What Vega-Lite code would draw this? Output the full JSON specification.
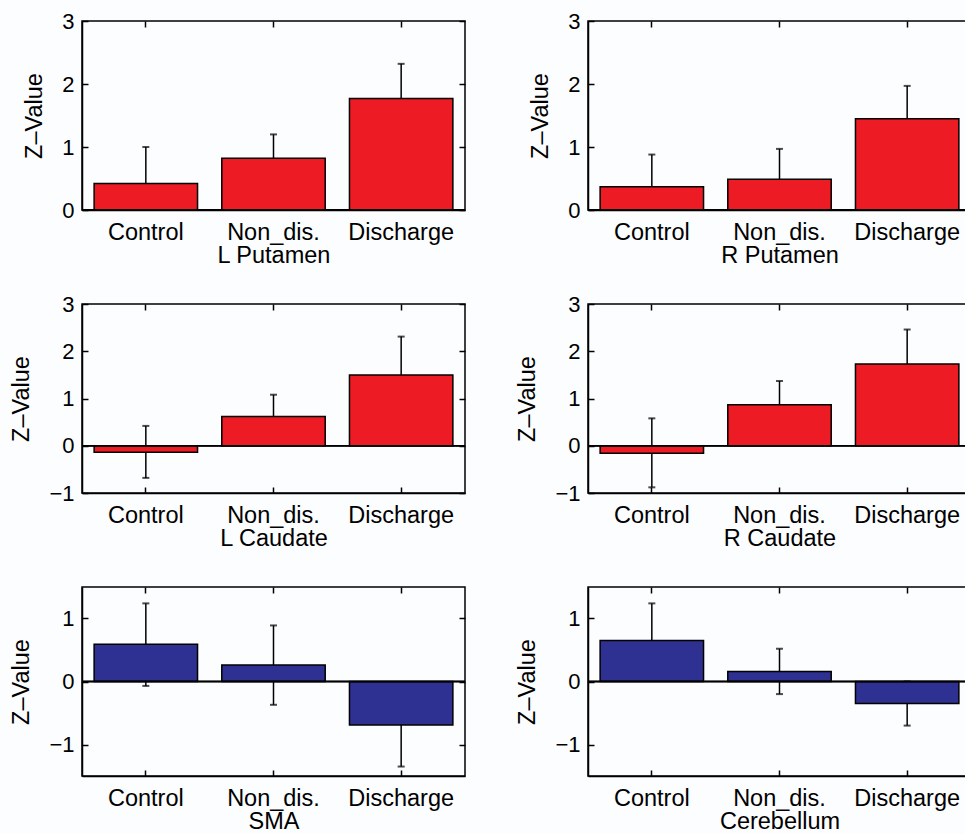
{
  "$schema": "https://vega.github.io/schema/vega-lite/v6.json",
  "background": "#fcfdff",
  "padding": {"top": 9, "left": 9, "right": 0, "bottom": 0},
  "data": {"values": [
    {"region": "L Putamen", "group": "Control", "value": 0.42, "lo": -0.16, "hi": 1.00},
    {"region": "L Putamen", "group": "Non_dis.", "value": 0.82, "lo": 0.44, "hi": 1.20},
    {"region": "L Putamen", "group": "Discharge", "value": 1.77, "lo": 1.22, "hi": 2.32},
    {"region": "R Putamen", "group": "Control", "value": 0.37, "lo": -0.14, "hi": 0.88},
    {"region": "R Putamen", "group": "Non_dis.", "value": 0.49, "lo": 0.01, "hi": 0.97},
    {"region": "R Putamen", "group": "Discharge", "value": 1.45, "lo": 0.93, "hi": 1.97},
    {"region": "L Caudate", "group": "Control", "value": -0.14, "lo": -0.68, "hi": 0.42},
    {"region": "L Caudate", "group": "Non_dis.", "value": 0.62, "lo": 0.16, "hi": 1.08},
    {"region": "L Caudate", "group": "Discharge", "value": 1.50, "lo": 0.69, "hi": 2.31},
    {"region": "R Caudate", "group": "Control", "value": -0.16, "lo": -0.88, "hi": 0.58},
    {"region": "R Caudate", "group": "Non_dis.", "value": 0.87, "lo": 0.37, "hi": 1.37},
    {"region": "R Caudate", "group": "Discharge", "value": 1.73, "lo": 1.00, "hi": 2.46},
    {"region": "SMA", "group": "Control", "value": 0.59, "lo": -0.07, "hi": 1.24},
    {"region": "SMA", "group": "Non_dis.", "value": 0.26, "lo": -0.37, "hi": 0.89},
    {"region": "SMA", "group": "Discharge", "value": -0.69, "lo": -1.35, "hi": -0.03},
    {"region": "Cerebellum", "group": "Control", "value": 0.65, "lo": 0.06, "hi": 1.24},
    {"region": "Cerebellum", "group": "Non_dis.", "value": 0.16, "lo": -0.20, "hi": 0.52},
    {"region": "Cerebellum", "group": "Discharge", "value": -0.35, "lo": -0.70, "hi": 0.00}
  ]},
  "columns": 2,
  "bounds": "flush",
  "spacing": {"row": 94, "column": 123},
  "concat": [
    {
      "width": 383, "height": 189,
      "transform": [{"filter": {"field": "region", "equal": "L Putamen"}}],
      "resolve": {"axis": {"x": "independent", "y": "independent"}},
      "layer": [
        {"mark": {"type": "rule", "color": "black", "strokeWidth": 1.5, "clip": true},
         "encoding": {"x": {"field": "group", "type": "nominal", "sort": ["Control", "Non_dis.", "Discharge"], "scale": {"paddingInner": 0.19, "paddingOuter": 0.095}, "axis": null},
                      "y": {"field": "lo", "type": "quantitative", "scale": {"domain": [0, 3], "nice": false, "zero": false}, "axis": null},
                      "y2": {"field": "hi"}}},
        {"mark": {"type": "tick", "color": "black", "thickness": 2, "size": 7, "clip": true},
         "encoding": {"x": {"field": "group", "type": "nominal", "sort": ["Control", "Non_dis.", "Discharge"], "axis": null},
                      "y": {"field": "hi", "type": "quantitative", "axis": null}}},
        {"mark": {"type": "tick", "color": "black", "thickness": 2, "size": 7, "clip": true},
         "encoding": {"x": {"field": "group", "type": "nominal", "sort": ["Control", "Non_dis.", "Discharge"], "axis": null},
                      "y": {"field": "lo", "type": "quantitative", "axis": null}}},
        {"mark": {"type": "bar", "fill": "#ED1C24", "stroke": "black", "strokeWidth": 1.5},
         "encoding": {"x": {"field": "group", "type": "nominal", "sort": ["Control", "Non_dis.", "Discharge"], "axis": {"orient": "bottom", "title": "L Putamen"}},
                      "y": {"field": "value", "type": "quantitative", "axis": {"orient": "left", "title": "Z–Value", "values": [0, 1, 2, 3]}}}},
        {"mark": {"type": "rule", "color": "black", "strokeWidth": 1.5},
         "encoding": {"y": {"datum": 0, "type": "quantitative", "axis": null}}},
        {"mark": {"type": "bar", "opacity": 0},
         "encoding": {"x": {"field": "group", "type": "nominal", "sort": ["Control", "Non_dis.", "Discharge"], "axis": {"orient": "top", "labels": false, "title": null, "domain": false}},
                      "y": {"field": "value", "type": "quantitative", "axis": {"orient": "right", "labels": false, "title": null, "domain": false, "values": [0, 1, 2, 3]}}}}
      ]
    },
    {
      "width": 383, "height": 189,
      "transform": [{"filter": {"field": "region", "equal": "R Putamen"}}],
      "resolve": {"axis": {"x": "independent", "y": "independent"}},
      "layer": [
        {"mark": {"type": "rule", "color": "black", "strokeWidth": 1.5, "clip": true},
         "encoding": {"x": {"field": "group", "type": "nominal", "sort": ["Control", "Non_dis.", "Discharge"], "scale": {"paddingInner": 0.19, "paddingOuter": 0.095}, "axis": null},
                      "y": {"field": "lo", "type": "quantitative", "scale": {"domain": [0, 3], "nice": false, "zero": false}, "axis": null},
                      "y2": {"field": "hi"}}},
        {"mark": {"type": "tick", "color": "black", "thickness": 2, "size": 7, "clip": true},
         "encoding": {"x": {"field": "group", "type": "nominal", "sort": ["Control", "Non_dis.", "Discharge"], "axis": null},
                      "y": {"field": "hi", "type": "quantitative", "axis": null}}},
        {"mark": {"type": "tick", "color": "black", "thickness": 2, "size": 7, "clip": true},
         "encoding": {"x": {"field": "group", "type": "nominal", "sort": ["Control", "Non_dis.", "Discharge"], "axis": null},
                      "y": {"field": "lo", "type": "quantitative", "axis": null}}},
        {"mark": {"type": "bar", "fill": "#ED1C24", "stroke": "black", "strokeWidth": 1.5},
         "encoding": {"x": {"field": "group", "type": "nominal", "sort": ["Control", "Non_dis.", "Discharge"], "axis": {"orient": "bottom", "title": "R Putamen"}},
                      "y": {"field": "value", "type": "quantitative", "axis": {"orient": "left", "title": "Z–Value", "values": [0, 1, 2, 3]}}}},
        {"mark": {"type": "rule", "color": "black", "strokeWidth": 1.5},
         "encoding": {"y": {"datum": 0, "type": "quantitative", "axis": null}}},
        {"mark": {"type": "bar", "opacity": 0},
         "encoding": {"x": {"field": "group", "type": "nominal", "sort": ["Control", "Non_dis.", "Discharge"], "axis": {"orient": "top", "labels": false, "title": null, "domain": false}},
                      "y": {"field": "value", "type": "quantitative", "axis": {"orient": "right", "labels": false, "title": null, "domain": false, "values": [0, 1, 2, 3]}}}}
      ]
    },
    {
      "width": 383, "height": 189,
      "transform": [{"filter": {"field": "region", "equal": "L Caudate"}}],
      "resolve": {"axis": {"x": "independent", "y": "independent"}},
      "layer": [
        {"mark": {"type": "rule", "color": "black", "strokeWidth": 1.5, "clip": true},
         "encoding": {"x": {"field": "group", "type": "nominal", "sort": ["Control", "Non_dis.", "Discharge"], "scale": {"paddingInner": 0.19, "paddingOuter": 0.095}, "axis": null},
                      "y": {"field": "lo", "type": "quantitative", "scale": {"domain": [-1, 3], "nice": false, "zero": false}, "axis": null},
                      "y2": {"field": "hi"}}},
        {"mark": {"type": "tick", "color": "black", "thickness": 2, "size": 7, "clip": true},
         "encoding": {"x": {"field": "group", "type": "nominal", "sort": ["Control", "Non_dis.", "Discharge"], "axis": null},
                      "y": {"field": "hi", "type": "quantitative", "axis": null}}},
        {"mark": {"type": "tick", "color": "black", "thickness": 2, "size": 7, "clip": true},
         "encoding": {"x": {"field": "group", "type": "nominal", "sort": ["Control", "Non_dis.", "Discharge"], "axis": null},
                      "y": {"field": "lo", "type": "quantitative", "axis": null}}},
        {"mark": {"type": "bar", "fill": "#ED1C24", "stroke": "black", "strokeWidth": 1.5},
         "encoding": {"x": {"field": "group", "type": "nominal", "sort": ["Control", "Non_dis.", "Discharge"], "axis": {"orient": "bottom", "title": "L Caudate"}},
                      "y": {"field": "value", "type": "quantitative", "axis": {"orient": "left", "title": "Z–Value", "values": [-1, 0, 1, 2, 3]}}}},
        {"mark": {"type": "rule", "color": "black", "strokeWidth": 1.5},
         "encoding": {"y": {"datum": 0, "type": "quantitative", "axis": null}}},
        {"mark": {"type": "bar", "opacity": 0},
         "encoding": {"x": {"field": "group", "type": "nominal", "sort": ["Control", "Non_dis.", "Discharge"], "axis": {"orient": "top", "labels": false, "title": null, "domain": false}},
                      "y": {"field": "value", "type": "quantitative", "axis": {"orient": "right", "labels": false, "title": null, "domain": false, "values": [-1, 0, 1, 2, 3]}}}}
      ]
    },
    {
      "width": 383, "height": 189,
      "transform": [{"filter": {"field": "region", "equal": "R Caudate"}}],
      "resolve": {"axis": {"x": "independent", "y": "independent"}},
      "layer": [
        {"mark": {"type": "rule", "color": "black", "strokeWidth": 1.5, "clip": true},
         "encoding": {"x": {"field": "group", "type": "nominal", "sort": ["Control", "Non_dis.", "Discharge"], "scale": {"paddingInner": 0.19, "paddingOuter": 0.095}, "axis": null},
                      "y": {"field": "lo", "type": "quantitative", "scale": {"domain": [-1, 3], "nice": false, "zero": false}, "axis": null},
                      "y2": {"field": "hi"}}},
        {"mark": {"type": "tick", "color": "black", "thickness": 2, "size": 7, "clip": true},
         "encoding": {"x": {"field": "group", "type": "nominal", "sort": ["Control", "Non_dis.", "Discharge"], "axis": null},
                      "y": {"field": "hi", "type": "quantitative", "axis": null}}},
        {"mark": {"type": "tick", "color": "black", "thickness": 2, "size": 7, "clip": true},
         "encoding": {"x": {"field": "group", "type": "nominal", "sort": ["Control", "Non_dis.", "Discharge"], "axis": null},
                      "y": {"field": "lo", "type": "quantitative", "axis": null}}},
        {"mark": {"type": "bar", "fill": "#ED1C24", "stroke": "black", "strokeWidth": 1.5},
         "encoding": {"x": {"field": "group", "type": "nominal", "sort": ["Control", "Non_dis.", "Discharge"], "axis": {"orient": "bottom", "title": "R Caudate"}},
                      "y": {"field": "value", "type": "quantitative", "axis": {"orient": "left", "title": "Z–Value", "values": [-1, 0, 1, 2, 3]}}}},
        {"mark": {"type": "rule", "color": "black", "strokeWidth": 1.5},
         "encoding": {"y": {"datum": 0, "type": "quantitative", "axis": null}}},
        {"mark": {"type": "bar", "opacity": 0},
         "encoding": {"x": {"field": "group", "type": "nominal", "sort": ["Control", "Non_dis.", "Discharge"], "axis": {"orient": "top", "labels": false, "title": null, "domain": false}},
                      "y": {"field": "value", "type": "quantitative", "axis": {"orient": "right", "labels": false, "title": null, "domain": false, "values": [-1, 0, 1, 2, 3]}}}}
      ]
    },
    {
      "width": 383, "height": 189,
      "transform": [{"filter": {"field": "region", "equal": "SMA"}}],
      "resolve": {"axis": {"x": "independent", "y": "independent"}},
      "layer": [
        {"mark": {"type": "rule", "color": "black", "strokeWidth": 1.5, "clip": true},
         "encoding": {"x": {"field": "group", "type": "nominal", "sort": ["Control", "Non_dis.", "Discharge"], "scale": {"paddingInner": 0.19, "paddingOuter": 0.095}, "axis": null},
                      "y": {"field": "lo", "type": "quantitative", "scale": {"domain": [-1.5, 1.5], "nice": false, "zero": false}, "axis": null},
                      "y2": {"field": "hi"}}},
        {"mark": {"type": "tick", "color": "black", "thickness": 2, "size": 7, "clip": true},
         "encoding": {"x": {"field": "group", "type": "nominal", "sort": ["Control", "Non_dis.", "Discharge"], "axis": null},
                      "y": {"field": "hi", "type": "quantitative", "axis": null}}},
        {"mark": {"type": "tick", "color": "black", "thickness": 2, "size": 7, "clip": true},
         "encoding": {"x": {"field": "group", "type": "nominal", "sort": ["Control", "Non_dis.", "Discharge"], "axis": null},
                      "y": {"field": "lo", "type": "quantitative", "axis": null}}},
        {"mark": {"type": "bar", "fill": "#2E3192", "stroke": "black", "strokeWidth": 1.5},
         "encoding": {"x": {"field": "group", "type": "nominal", "sort": ["Control", "Non_dis.", "Discharge"], "axis": {"orient": "bottom", "title": "SMA"}},
                      "y": {"field": "value", "type": "quantitative", "axis": {"orient": "left", "title": "Z–Value", "values": [-1, 0, 1]}}}},
        {"mark": {"type": "rule", "color": "black", "strokeWidth": 1.5},
         "encoding": {"y": {"datum": 0, "type": "quantitative", "axis": null}}},
        {"mark": {"type": "bar", "opacity": 0},
         "encoding": {"x": {"field": "group", "type": "nominal", "sort": ["Control", "Non_dis.", "Discharge"], "axis": {"orient": "top", "labels": false, "title": null, "domain": false}},
                      "y": {"field": "value", "type": "quantitative", "axis": {"orient": "right", "labels": false, "title": null, "domain": false, "values": [-1, 0, 1]}}}}
      ]
    },
    {
      "width": 383, "height": 189,
      "transform": [{"filter": {"field": "region", "equal": "Cerebellum"}}],
      "resolve": {"axis": {"x": "independent", "y": "independent"}},
      "layer": [
        {"mark": {"type": "rule", "color": "black", "strokeWidth": 1.5, "clip": true},
         "encoding": {"x": {"field": "group", "type": "nominal", "sort": ["Control", "Non_dis.", "Discharge"], "scale": {"paddingInner": 0.19, "paddingOuter": 0.095}, "axis": null},
                      "y": {"field": "lo", "type": "quantitative", "scale": {"domain": [-1.5, 1.5], "nice": false, "zero": false}, "axis": null},
                      "y2": {"field": "hi"}}},
        {"mark": {"type": "tick", "color": "black", "thickness": 2, "size": 7, "clip": true},
         "encoding": {"x": {"field": "group", "type": "nominal", "sort": ["Control", "Non_dis.", "Discharge"], "axis": null},
                      "y": {"field": "hi", "type": "quantitative", "axis": null}}},
        {"mark": {"type": "tick", "color": "black", "thickness": 2, "size": 7, "clip": true},
         "encoding": {"x": {"field": "group", "type": "nominal", "sort": ["Control", "Non_dis.", "Discharge"], "axis": null},
                      "y": {"field": "lo", "type": "quantitative", "axis": null}}},
        {"mark": {"type": "bar", "fill": "#2E3192", "stroke": "black", "strokeWidth": 1.5},
         "encoding": {"x": {"field": "group", "type": "nominal", "sort": ["Control", "Non_dis.", "Discharge"], "axis": {"orient": "bottom", "title": "Cerebellum"}},
                      "y": {"field": "value", "type": "quantitative", "axis": {"orient": "left", "title": "Z–Value", "values": [-1, 0, 1]}}}},
        {"mark": {"type": "rule", "color": "black", "strokeWidth": 1.5},
         "encoding": {"y": {"datum": 0, "type": "quantitative", "axis": null}}},
        {"mark": {"type": "bar", "opacity": 0},
         "encoding": {"x": {"field": "group", "type": "nominal", "sort": ["Control", "Non_dis.", "Discharge"], "axis": {"orient": "top", "labels": false, "title": null, "domain": false}},
                      "y": {"field": "value", "type": "quantitative", "axis": {"orient": "right", "labels": false, "title": null, "domain": false, "values": [-1, 0, 1]}}}}
      ]
    }
  ],
  "config": {
    "view": {"stroke": "black", "strokeWidth": 1.5},
    "font": "Liberation Sans",
    "axis": {
      "grid": false,
      "labelFont": "Liberation Sans", "labelFontSize": 22, "labelColor": "black",
      "titleFont": "Liberation Sans", "titleFontSize": 23.5, "titleFontWeight": "normal", "titleColor": "black",
      "domainColor": "black", "domainWidth": 1.5,
      "tickColor": "black", "tickWidth": 1.5, "tickSize": -6
    },
    "axisX": {"labelAngle": 0, "labelFontSize": 23.5, "labelPadding": 16, "titlePadding": 0},
    "axisY": {"labelPadding": 14, "titlePadding": 15}
  }
}
